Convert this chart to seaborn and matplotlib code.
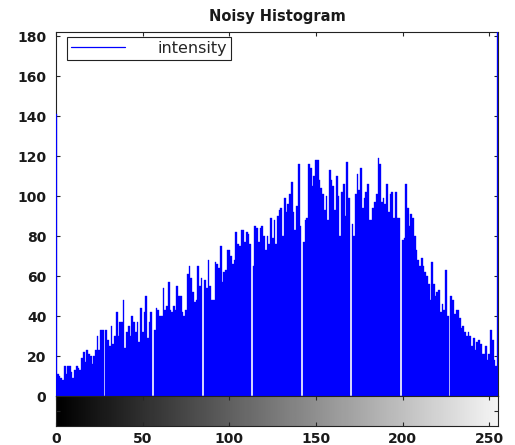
import matplotlib
matplotlib.use('Agg')
import matplotlib.pyplot as plt
from matplotlib.lines import Line2D
import seaborn as sns
import numpy as np

# grey levels 0..255 and the pixel count
levels = np.arange(256)
counts = [
    141,
    11, 10, 9, 8, 15, 11, 15, 15, 12, 9, 13, 15, 14, 13, 19, 22, 17, 23, 21, 20, 16, 20, 23, 30, 23, 33, 33,
    0,
    33, 28, 25, 35, 26, 30, 42, 30, 37, 37, 48, 24, 32, 35, 30, 40, 37, 32, 37, 27, 44, 32, 42, 50, 29, 37, 42,
    0,
    33, 44, 43, 40, 40, 54, 43, 45, 57, 43, 42, 45, 43, 55, 50, 50, 42, 40, 43, 61, 65, 59, 52, 47, 48, 65, 55, 59,
    0,
    58, 54, 68, 55, 48, 48, 67, 66, 64, 75, 57, 62, 63, 73, 73, 70, 66, 68, 82, 76, 75, 83, 83, 77, 82, 81, 76,
    0,
    65, 85, 84, 77, 84, 85, 80, 73, 80, 76, 89, 79, 88, 76, 90, 93, 94, 80, 99, 92, 96, 101, 107, 92, 83, 95, 116, 85,
    0,
    77, 88, 89, 116, 114, 105, 110, 118, 118, 108, 104, 101, 93, 100, 88, 113, 108, 105, 93, 110, 100, 80, 102, 106, 90, 117, 99,
    0,
    86, 80, 101, 111, 103, 114, 94, 99, 102, 106, 88, 88, 94, 97, 101, 119, 116, 97, 99, 96, 106, 92, 101, 102, 89, 102, 89, 89,
    0,
    78, 79, 106, 94, 85, 91, 89, 80, 73, 68, 65, 69, 65, 62, 60, 56, 48, 67, 56, 50, 52, 53, 42, 46, 43, 63, 40,
    0,
    50, 48, 41, 43, 43, 39, 34, 35, 32, 30, 32, 30, 25, 29, 23, 27, 28, 26, 21, 21, 25, 18, 21, 33, 28, 18, 15,
    240,
]
yticks = [0, 20, 40, 60, 80, 100, 120, 140, 160, 180]
xticks = [0, 50, 100, 150, 200, 250]
title = 'Noisy Histogram'
legend_label = 'intensity'

sns.set_style('ticks')
plt.rcParams['font.family'] = ['DejaVu Sans']
blue = '#0000ff'
tick_kw = dict(fontsize=10, fontweight='bold', color='#1a1a1a')

fig = plt.figure(figsize=(5.15, 4.45), dpi=100)
ax = fig.add_axes([56 / 515, 1 - 396 / 445, 442 / 515, 364 / 445])
cax = fig.add_axes([56 / 515, 1 - 426 / 445, 442 / 515, 30 / 445])

sns.histplot(x=levels, weights=counts, discrete=True, color=blue, alpha=1,
             edgecolor=blue, linewidth=0.25, zorder=3, ax=ax)
ax.set_xlim(0, 255)
ax.set_ylim(0, 182)
ax.set_xlabel('')
ax.set_ylabel('')
ax.set_yticks(yticks)
ax.set_yticklabels([str(v) for v in yticks], **tick_kw)
ax.set_xticks(xticks)
ax.set_xticklabels([])
ax.tick_params(direction='in', length=3, width=0.8, top=True, right=True, bottom=False, pad=7)
for s in ax.spines.values():
    s.set_visible(True)
    s.set_linewidth(0.8)
    s.set_color('#222222')
ax.set_title(title, fontsize=10.5, fontweight='bold', color='#1a1a1a', pad=8)

handle = Line2D([0], [0], color=blue, lw=0.9)
leg = ax.legend([handle], [legend_label], loc='upper left', bbox_to_anchor=(0.025, 0.986),
                borderaxespad=0, fancybox=False, framealpha=1, edgecolor='#222222',
                fontsize=11.5, handlelength=3.4, handletextpad=2.0, borderpad=0.25)
leg.get_frame().set_linewidth(0.8)
leg.set_zorder(5)

# grey ramp under the histogram
ramp = np.linspace(0, 0.96, 256)[None, :]
cax.imshow(ramp, cmap='gray', aspect='auto', extent=[0, 255, 0, 1], vmin=0, vmax=1)
cax.set_xlim(0, 255)
cax.set_ylim(0, 1)
cax.set_xticks(xticks)
cax.set_xticklabels([str(v) for v in xticks], **tick_kw)
cax.set_yticks([0.5])
cax.set_yticklabels([])
cax.tick_params(direction='in', length=3, width=0.8, top=True, right=True, pad=4)
for s in cax.spines.values():
    s.set_visible(True)
    s.set_linewidth(0.8)
    s.set_color('#222222')

fig.savefig('out.png', dpi=100)
